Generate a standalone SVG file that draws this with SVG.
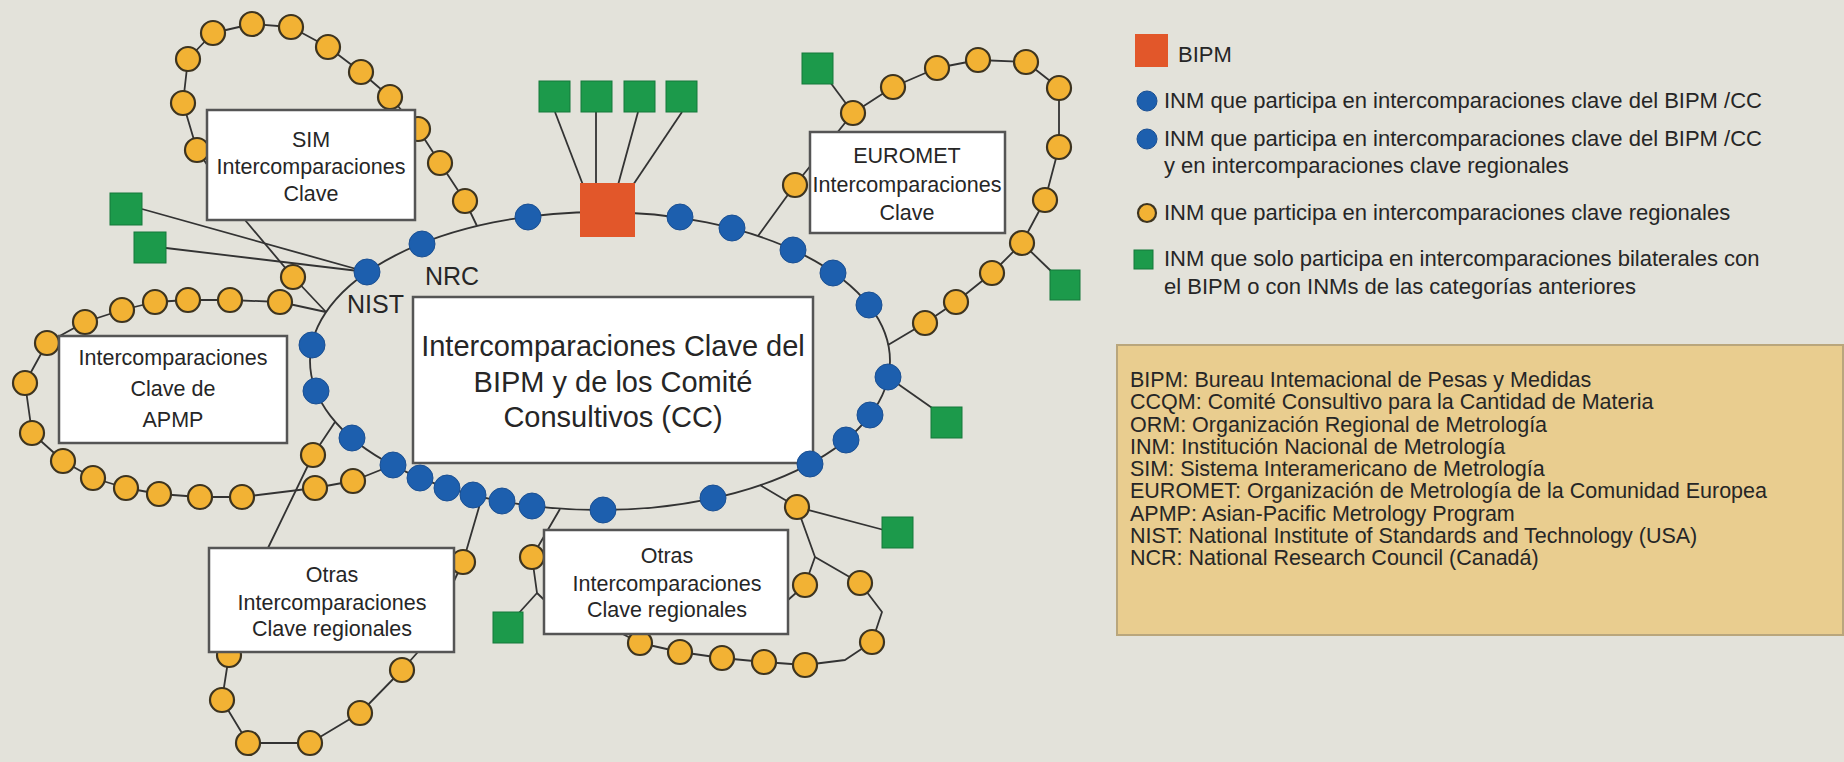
<svg xmlns="http://www.w3.org/2000/svg" width="1844" height="762" viewBox="0 0 1844 762">
<style>
.bg{fill:#e3e2da}
.ln{fill:none;stroke:#333;stroke-width:1.8;stroke-linejoin:round}
.o{fill:#f2b234;stroke:#3d3420;stroke-width:2.2}
.b{fill:#1d5fae;stroke:#1a4f92;stroke-width:1}
.g{fill:#1c9a4b;stroke:#15793a;stroke-width:1}
.bipm{fill:#e2572a}
.box{fill:#fff;stroke:#555;stroke-width:2.5}
.t{font-family:"Liberation Sans",Arial,sans-serif;fill:#262626}
.lbl{font-size:21.5px;text-anchor:middle}
.main{font-size:29px;text-anchor:middle}
.leg{font-size:22px}
.abbr{font-size:21.5px}
.nm{font-size:25px}
</style>
<rect class="bg" x="0" y="0" width="1844" height="762"/>

<g id="connectors">
<ellipse class="ln" cx="600" cy="361" rx="290" ry="149"/>
<polyline class="ln" points="326,312 293,277 245,220 197,150 183,103 188,59 213,33 252,24 291,27 328,47 361,72 390,97 418,129 440,163 465,201 477,226"/>
<polyline class="ln" points="326,312 280,302 230,300 188,300 155,302 122,310 85,322 47,343 25,383 32,433 63,461 93,478 126,488 159,494 200,497 242,497 315,488 353,481 393,465"/>
<polyline class="ln" points="335,422 313,455 268,548 240,620 229,655 222,700 248,743 310,743 360,713 402,670 417,653 445,600 463,562 482,497"/>
<polyline class="ln" points="560,509 532,557 537,593 560,615 700,620 788,600 805,585 815,557 797,507 760,485"/>
<polyline class="ln" points="815,557 860,583 882,612 872,642 845,660 805,665 764,662 722,658 680,652 640,643 615,630"/>
<polyline class="ln" points="758,236 795,185 853,113 893,87 937,68 978,60 1026,62 1059,88 1059,147 1045,200 1022,243 992,273 956,302 925,323 888,345"/>
<line class="ln" x1="142" y1="209" x2="367" y2="272"/>
<line class="ln" x1="166" y1="248" x2="367" y2="272"/>
<line class="ln" x1="555" y1="112" x2="583" y2="185"/>
<line class="ln" x1="596" y1="112" x2="596" y2="185"/>
<line class="ln" x1="638" y1="112" x2="618" y2="185"/>
<line class="ln" x1="682" y1="112" x2="633" y2="185"/>
<line class="ln" x1="830" y1="82" x2="853" y2="113"/>
<line class="ln" x1="1022" y1="243" x2="1052" y2="272"/>
<line class="ln" x1="888" y1="377" x2="935" y2="410"/>
<line class="ln" x1="797" y1="507" x2="884" y2="530"/>
<line class="ln" x1="518" y1="614" x2="537" y2="593"/>
</g>

<g id="central-box">
<rect class="box" x="413" y="297" width="400" height="166"/>
<text class="t main" x="613" y="356">Intercomparaciones Clave del</text>
<text class="t main" x="613" y="392">BIPM y de los Comité</text>
<text class="t main" x="613" y="427">Consultivos (CC)</text>
</g>

<g id="bipm-node">
<rect class="bipm" x="580" y="183" width="55" height="54"/>
</g>

<g id="blue-nodes">
<circle class="b" cx="367" cy="272" r="13"/>
<circle class="b" cx="422" cy="244" r="13"/>
<circle class="b" cx="528" cy="217" r="13"/>
<circle class="b" cx="680" cy="217" r="13"/>
<circle class="b" cx="732" cy="228" r="13"/>
<circle class="b" cx="793" cy="250" r="13"/>
<circle class="b" cx="833" cy="273" r="13"/>
<circle class="b" cx="869" cy="305" r="13"/>
<circle class="b" cx="888" cy="377" r="13"/>
<circle class="b" cx="870" cy="415" r="13"/>
<circle class="b" cx="846" cy="440" r="13"/>
<circle class="b" cx="810" cy="464" r="13"/>
<circle class="b" cx="713" cy="498" r="13"/>
<circle class="b" cx="603" cy="510" r="13"/>
<circle class="b" cx="532" cy="506" r="13"/>
<circle class="b" cx="502" cy="501" r="13"/>
<circle class="b" cx="473" cy="495" r="13"/>
<circle class="b" cx="447" cy="488" r="13"/>
<circle class="b" cx="420" cy="478" r="13"/>
<circle class="b" cx="393" cy="465" r="13"/>
<circle class="b" cx="352" cy="438" r="13"/>
<circle class="b" cx="316" cy="391" r="13"/>
<circle class="b" cx="312" cy="345" r="13"/>
</g>

<g id="orange-nodes">
<circle class="o" cx="293" cy="277" r="12"/>
<circle class="o" cx="197" cy="150" r="12"/>
<circle class="o" cx="183" cy="103" r="12"/>
<circle class="o" cx="188" cy="59" r="12"/>
<circle class="o" cx="213" cy="33" r="12"/>
<circle class="o" cx="252" cy="24" r="12"/>
<circle class="o" cx="291" cy="27" r="12"/>
<circle class="o" cx="328" cy="47" r="12"/>
<circle class="o" cx="361" cy="72" r="12"/>
<circle class="o" cx="390" cy="97" r="12"/>
<circle class="o" cx="418" cy="129" r="12"/>
<circle class="o" cx="440" cy="163" r="12"/>
<circle class="o" cx="465" cy="201" r="12"/>
<circle class="o" cx="280" cy="302" r="12"/>
<circle class="o" cx="230" cy="300" r="12"/>
<circle class="o" cx="188" cy="300" r="12"/>
<circle class="o" cx="155" cy="302" r="12"/>
<circle class="o" cx="122" cy="310" r="12"/>
<circle class="o" cx="85" cy="322" r="12"/>
<circle class="o" cx="47" cy="343" r="12"/>
<circle class="o" cx="25" cy="383" r="12"/>
<circle class="o" cx="32" cy="433" r="12"/>
<circle class="o" cx="63" cy="461" r="12"/>
<circle class="o" cx="93" cy="478" r="12"/>
<circle class="o" cx="126" cy="488" r="12"/>
<circle class="o" cx="159" cy="494" r="12"/>
<circle class="o" cx="200" cy="497" r="12"/>
<circle class="o" cx="242" cy="497" r="12"/>
<circle class="o" cx="315" cy="488" r="12"/>
<circle class="o" cx="353" cy="481" r="12"/>
<circle class="o" cx="313" cy="455" r="12"/>
<circle class="o" cx="229" cy="655" r="12"/>
<circle class="o" cx="222" cy="700" r="12"/>
<circle class="o" cx="248" cy="743" r="12"/>
<circle class="o" cx="310" cy="743" r="12"/>
<circle class="o" cx="360" cy="713" r="12"/>
<circle class="o" cx="402" cy="670" r="12"/>
<circle class="o" cx="463" cy="562" r="12"/>
<circle class="o" cx="532" cy="557" r="12"/>
<circle class="o" cx="797" cy="507" r="12"/>
<circle class="o" cx="805" cy="585" r="12"/>
<circle class="o" cx="860" cy="583" r="12"/>
<circle class="o" cx="872" cy="642" r="12"/>
<circle class="o" cx="805" cy="665" r="12"/>
<circle class="o" cx="764" cy="662" r="12"/>
<circle class="o" cx="722" cy="658" r="12"/>
<circle class="o" cx="680" cy="652" r="12"/>
<circle class="o" cx="640" cy="643" r="12"/>
<circle class="o" cx="795" cy="185" r="12"/>
<circle class="o" cx="853" cy="113" r="12"/>
<circle class="o" cx="893" cy="87" r="12"/>
<circle class="o" cx="937" cy="68" r="12"/>
<circle class="o" cx="978" cy="60" r="12"/>
<circle class="o" cx="1026" cy="62" r="12"/>
<circle class="o" cx="1059" cy="88" r="12"/>
<circle class="o" cx="1059" cy="147" r="12"/>
<circle class="o" cx="1045" cy="200" r="12"/>
<circle class="o" cx="1022" cy="243" r="12"/>
<circle class="o" cx="992" cy="273" r="12"/>
<circle class="o" cx="956" cy="302" r="12"/>
<circle class="o" cx="925" cy="323" r="12"/>
</g>

<g id="green-nodes">
<rect class="g" x="110" y="193" width="32" height="32"/>
<rect class="g" x="134" y="232" width="32" height="31"/>
<rect class="g" x="539" y="81" width="31" height="31"/>
<rect class="g" x="581" y="81" width="31" height="31"/>
<rect class="g" x="624" y="81" width="31" height="31"/>
<rect class="g" x="666" y="81" width="31" height="31"/>
<rect class="g" x="802" y="53" width="31" height="31"/>
<rect class="g" x="1050" y="270" width="30" height="30"/>
<rect class="g" x="931" y="407" width="31" height="31"/>
<rect class="g" x="882" y="517" width="31" height="31"/>
<rect class="g" x="493" y="612" width="30" height="31"/>
</g>

<g id="sim-box">
<rect class="box" x="207" y="110" width="208" height="110"/>
<text class="t lbl" x="311" y="147">SIM</text>
<text class="t lbl" x="311" y="174">Intercomparaciones</text>
<text class="t lbl" x="311" y="201">Clave</text>
</g>
<g id="apmp-box">
<rect class="box" x="59" y="336" width="228" height="107"/>
<text class="t lbl" x="173" y="365">Intercomparaciones</text>
<text class="t lbl" x="173" y="396">Clave de</text>
<text class="t lbl" x="173" y="427">APMP</text>
</g>
<g id="euromet-box">
<rect class="box" x="810" y="132" width="195" height="101"/>
<text class="t lbl" x="907" y="163">EUROMET</text>
<text class="t lbl" x="907" y="192">Intercomparaciones</text>
<text class="t lbl" x="907" y="220">Clave</text>
</g>
<g id="otras1-box">
<rect class="box" x="209" y="548" width="245" height="104"/>
<text class="t lbl" x="332" y="582">Otras</text>
<text class="t lbl" x="332" y="610">Intercomparaciones</text>
<text class="t lbl" x="332" y="636">Clave regionales</text>
</g>
<g id="otras2-box">
<rect class="box" x="544" y="530" width="244" height="104"/>
<text class="t lbl" x="667" y="563">Otras</text>
<text class="t lbl" x="667" y="591">Intercomparaciones</text>
<text class="t lbl" x="667" y="617">Clave regionales</text>
</g>

<g id="labels">
<text class="t nm" x="347" y="313">NIST</text>
<text class="t nm" x="425" y="285">NRC</text>
</g>

<g id="legend">
<rect class="bipm" x="1135" y="34" width="33" height="33"/>
<text class="t leg" x="1178" y="62">BIPM</text>
<circle class="b" cx="1147" cy="101" r="10"/>
<text class="t leg" x="1164" y="108">INM que participa en intercomparaciones clave del BIPM /CC</text>
<circle class="b" cx="1147" cy="139" r="10"/>
<text class="t leg" x="1164" y="146">INM que participa en intercomparaciones clave del BIPM /CC</text>
<text class="t leg" x="1164" y="173">y en intercomparaciones clave regionales</text>
<circle class="o" cx="1147" cy="213" r="9"/>
<text class="t leg" x="1164" y="220">INM que participa en intercomparaciones clave regionales</text>
<rect class="g" x="1134" y="250" width="19" height="19"/>
<text class="t leg" x="1164" y="266">INM que solo participa en intercomparaciones bilaterales con</text>
<text class="t leg" x="1164" y="294">el BIPM o con INMs de las categorías anteriores</text>
</g>

<g id="abbreviations">
<rect x="1117" y="345" width="726" height="290" fill="#e9cd8f" stroke="#b9a67c" stroke-width="2"/>
<text class="t abbr" x="1130" y="387">BIPM: Bureau Intemacional de Pesas y Medidas</text>
<text class="t abbr" x="1130" y="409">CCQM: Comité Consultivo para la Cantidad de Materia</text>
<text class="t abbr" x="1130" y="432">ORM: Organización Regional de Metrología</text>
<text class="t abbr" x="1130" y="454">INM: Institución Nacional de Metrología</text>
<text class="t abbr" x="1130" y="476">SIM: Sistema Interamericano de Metrología</text>
<text class="t abbr" x="1130" y="498">EUROMET: Organización de Metrología de la Comunidad Europea</text>
<text class="t abbr" x="1130" y="521">APMP: Asian-Pacific Metrology Program</text>
<text class="t abbr" x="1130" y="543">NIST: National Institute of Standards and Technology (USA)</text>
<text class="t abbr" x="1130" y="565">NCR: National Research Council (Canadá)</text>
</g>
</svg>
